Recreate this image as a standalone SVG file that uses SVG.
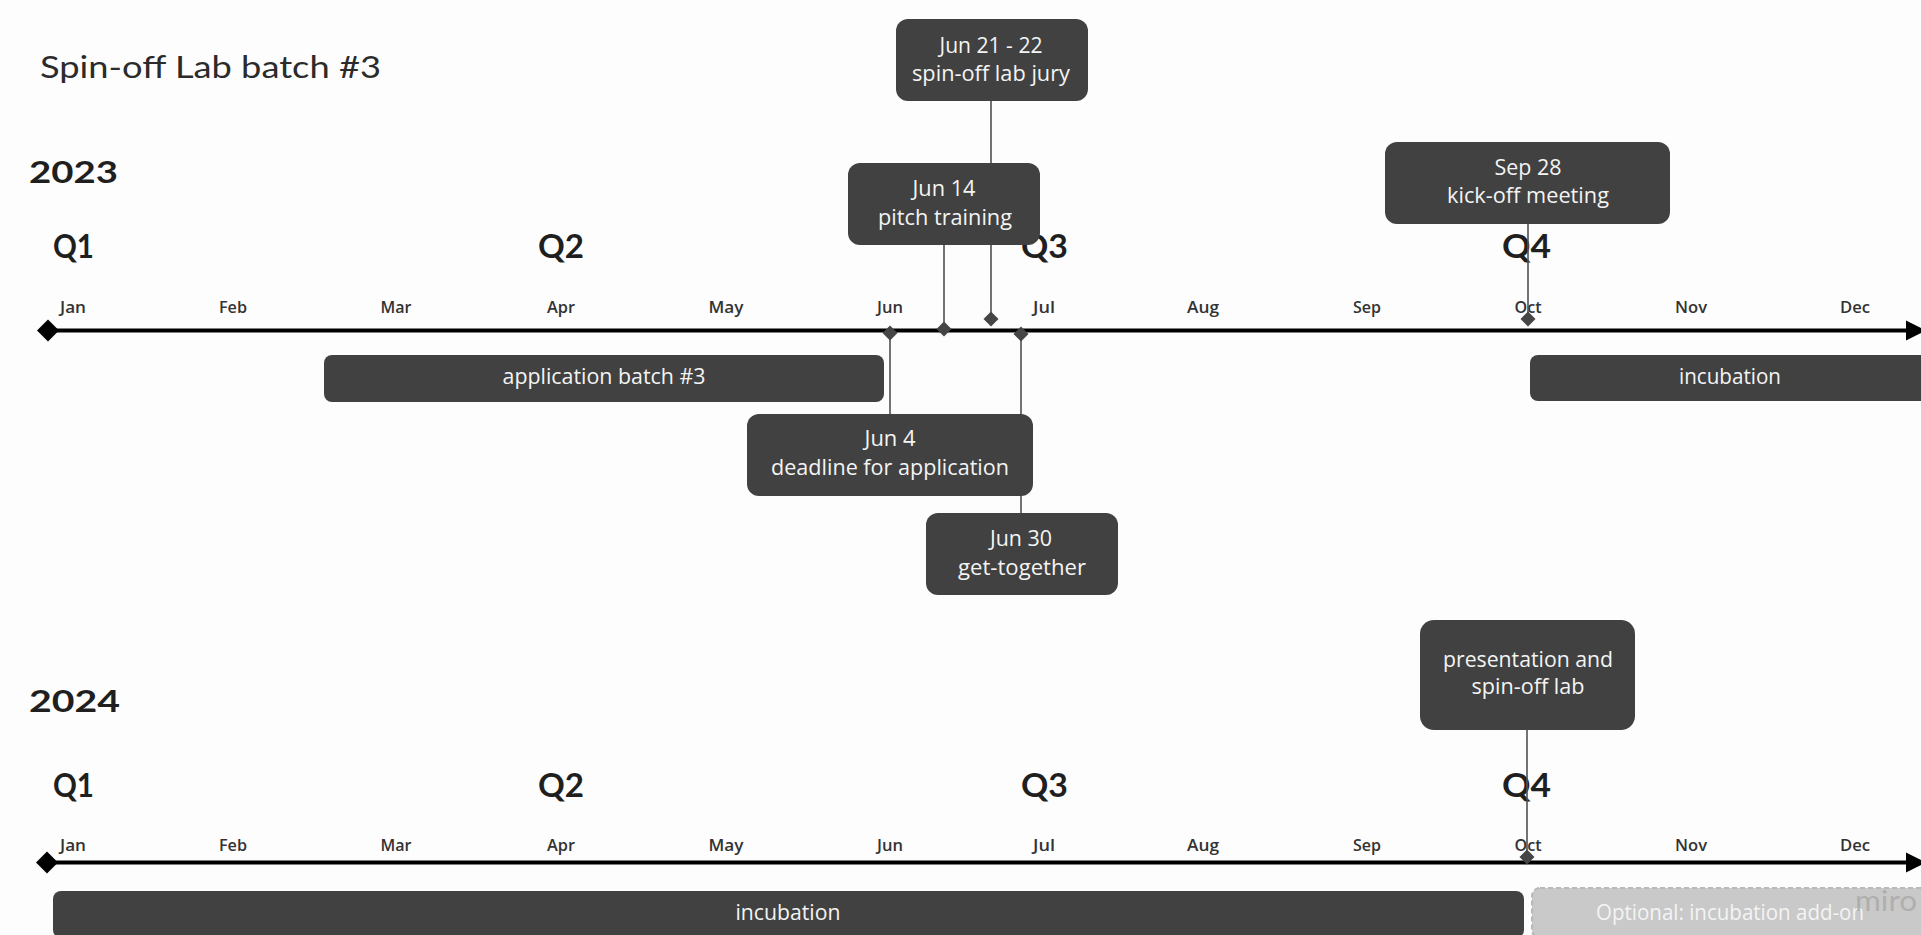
<svg xmlns="http://www.w3.org/2000/svg" width="1921" height="935" viewBox="0 0 1921 935">
<defs>
<style>
.title{font-family:Lato,"Liberation Sans",sans-serif;font-size:30px;font-weight:400;fill:#2b2b2b}
.year{font-family:Lato,"Liberation Sans",sans-serif;font-size:31px;font-weight:700;fill:#1f1f1f}
.q{font-family:Lato,"Liberation Sans",sans-serif;font-size:32px;font-weight:700;fill:#1f1f1f}
.m{font-family:"Open Sans","Liberation Sans",sans-serif;font-size:17px;font-weight:600;fill:#333;text-anchor:middle}
.bt{font-family:"Open Sans","Liberation Sans",sans-serif;font-size:22px;font-weight:500;fill:#f4f4f4;text-anchor:middle}
.bar{font-family:"Open Sans","Liberation Sans",sans-serif;font-size:22px;font-weight:500;fill:#f4f4f4;text-anchor:middle}
.box{fill:#414141}
.axis{stroke:#000;stroke-width:4;fill:none}
.conn{stroke:#505050;stroke-width:1.6;fill:none}
</style>
<marker id="dia" markerUnits="userSpaceOnUse" markerWidth="16" markerHeight="16" refX="8" refY="8" orient="0">
<path d="M8 0.5 L15.5 8 L8 15.5 L0.5 8 Z" fill="#454545"/>
</marker>
<marker id="bigdia" markerUnits="userSpaceOnUse" markerWidth="24" markerHeight="24" refX="12" refY="12" orient="0">
<path d="M12 1 L23 12 L12 23 L1 12 Z" fill="#000"/>
</marker>
<marker id="arrow" markerUnits="userSpaceOnUse" markerWidth="22" markerHeight="22" refX="20" refY="11" orient="auto">
<path d="M0 1 L20 11 L0 21 Z" fill="#000"/>
</marker>
</defs>
<rect x="0" y="0" width="1921" height="935" fill="#fdfdfd"/>

<g id="labels">
<text class="title" x="40" y="78" textLength="341" lengthAdjust="spacingAndGlyphs">Spin-off Lab batch #3</text>
<text class="year" x="29" y="183" textLength="89" lengthAdjust="spacingAndGlyphs">2023</text>
<text class="year" x="29" y="712" textLength="91" lengthAdjust="spacingAndGlyphs">2024</text>
<g id="quarters-2023">
<text class="q" x="53" y="258" textLength="41" lengthAdjust="spacingAndGlyphs">Q1</text>
<text class="q" x="538" y="258" textLength="46" lengthAdjust="spacingAndGlyphs">Q2</text>
<text class="q" x="1021" y="258" textLength="47" lengthAdjust="spacingAndGlyphs">Q3</text>
<text class="q" x="1502" y="258" textLength="49" lengthAdjust="spacingAndGlyphs">Q4</text>
</g>
<g id="quarters-2024">
<text class="q" x="53" y="797" textLength="41" lengthAdjust="spacingAndGlyphs">Q1</text>
<text class="q" x="538" y="797" textLength="46" lengthAdjust="spacingAndGlyphs">Q2</text>
<text class="q" x="1021" y="797" textLength="47" lengthAdjust="spacingAndGlyphs">Q3</text>
<text class="q" x="1502" y="797" textLength="49" lengthAdjust="spacingAndGlyphs">Q4</text>
</g>
<g id="months-2023">
<text class="m" x="73" y="313" textLength="26" lengthAdjust="spacingAndGlyphs">Jan</text>
<text class="m" x="233" y="313" textLength="28" lengthAdjust="spacingAndGlyphs">Feb</text>
<text class="m" x="396" y="313" textLength="31" lengthAdjust="spacingAndGlyphs">Mar</text>
<text class="m" x="561" y="313" textLength="28" lengthAdjust="spacingAndGlyphs">Apr</text>
<text class="m" x="726" y="313" textLength="35" lengthAdjust="spacingAndGlyphs">May</text>
<text class="m" x="890" y="313" textLength="26" lengthAdjust="spacingAndGlyphs">Jun</text>
<text class="m" x="1044" y="313" textLength="22" lengthAdjust="spacingAndGlyphs">Jul</text>
<text class="m" x="1203" y="313" textLength="32" lengthAdjust="spacingAndGlyphs">Aug</text>
<text class="m" x="1367" y="313" textLength="28" lengthAdjust="spacingAndGlyphs">Sep</text>
<text class="m" x="1528" y="313" textLength="27" lengthAdjust="spacingAndGlyphs">Oct</text>
<text class="m" x="1691" y="313" textLength="32" lengthAdjust="spacingAndGlyphs">Nov</text>
<text class="m" x="1855" y="313" textLength="30" lengthAdjust="spacingAndGlyphs">Dec</text>
</g>
<g id="months-2024">
<text class="m" x="73" y="851" textLength="26" lengthAdjust="spacingAndGlyphs">Jan</text>
<text class="m" x="233" y="851" textLength="28" lengthAdjust="spacingAndGlyphs">Feb</text>
<text class="m" x="396" y="851" textLength="31" lengthAdjust="spacingAndGlyphs">Mar</text>
<text class="m" x="561" y="851" textLength="28" lengthAdjust="spacingAndGlyphs">Apr</text>
<text class="m" x="726" y="851" textLength="35" lengthAdjust="spacingAndGlyphs">May</text>
<text class="m" x="890" y="851" textLength="26" lengthAdjust="spacingAndGlyphs">Jun</text>
<text class="m" x="1044" y="851" textLength="22" lengthAdjust="spacingAndGlyphs">Jul</text>
<text class="m" x="1203" y="851" textLength="32" lengthAdjust="spacingAndGlyphs">Aug</text>
<text class="m" x="1367" y="851" textLength="28" lengthAdjust="spacingAndGlyphs">Sep</text>
<text class="m" x="1528" y="851" textLength="27" lengthAdjust="spacingAndGlyphs">Oct</text>
<text class="m" x="1691" y="851" textLength="32" lengthAdjust="spacingAndGlyphs">Nov</text>
<text class="m" x="1855" y="851" textLength="30" lengthAdjust="spacingAndGlyphs">Dec</text>
</g>
</g>

<g id="axes">
<line class="axis" x1="48" y1="330.5" x2="1926" y2="330.5" marker-start="url(#bigdia)" marker-end="url(#arrow)"/>
<line class="axis" x1="47" y1="862.5" x2="1926" y2="862.5" marker-start="url(#bigdia)" marker-end="url(#arrow)"/>
</g>

<g id="connectors">
<line class="conn" x1="991" y1="101" x2="991" y2="319" marker-end="url(#dia)"/>
<line class="conn" x1="944" y1="245" x2="944" y2="329" marker-end="url(#dia)"/>
<line class="conn" x1="890" y1="414" x2="890" y2="333" marker-end="url(#dia)"/>
<line class="conn" x1="1021" y1="513" x2="1021" y2="334" marker-end="url(#dia)"/>
<line class="conn" x1="1528" y1="224" x2="1528" y2="319" marker-end="url(#dia)"/>
<line class="conn" x1="1527" y1="730" x2="1527" y2="857" marker-end="url(#dia)"/>
</g>

<g id="node-jury">
<rect class="box" x="896" y="19" width="192" height="82" rx="12"/>
<text class="bt" x="991" y="53" textLength="103" lengthAdjust="spacingAndGlyphs">Jun 21 - 22</text>
<text class="bt" x="991" y="81" textLength="158" lengthAdjust="spacingAndGlyphs">spin-off lab jury</text>
</g>
<g id="node-pitch">
<rect class="box" x="848" y="163" width="192" height="82" rx="12"/>
<text class="bt" x="944" y="196" textLength="63" lengthAdjust="spacingAndGlyphs">Jun 14</text>
<text class="bt" x="945" y="225" textLength="134" lengthAdjust="spacingAndGlyphs">pitch training</text>
</g>
<g id="node-kickoff">
<rect class="box" x="1385" y="142" width="285" height="82" rx="12"/>
<text class="bt" x="1528" y="175" textLength="67" lengthAdjust="spacingAndGlyphs">Sep 28</text>
<text class="bt" x="1528" y="203" textLength="162" lengthAdjust="spacingAndGlyphs">kick-off meeting</text>
</g>
<g id="node-application">
<rect class="box" x="324" y="355" width="560" height="47" rx="8"/>
<text class="bar" x="604" y="384" textLength="203" lengthAdjust="spacingAndGlyphs">application batch #3</text>
</g>
<g id="node-incubation-2023">
<rect class="box" x="1530" y="355" width="420" height="46" rx="8"/>
<text class="bar" x="1730" y="384" textLength="102" lengthAdjust="spacingAndGlyphs">incubation</text>
</g>
<g id="node-deadline">
<rect class="box" x="747" y="414" width="286" height="82" rx="12"/>
<text class="bt" x="890" y="446" textLength="51" lengthAdjust="spacingAndGlyphs">Jun 4</text>
<text class="bt" x="890" y="475" textLength="238" lengthAdjust="spacingAndGlyphs">deadline for application</text>
</g>
<g id="node-gettogether">
<rect class="box" x="926" y="513" width="192" height="82" rx="12"/>
<text class="bt" x="1021" y="546" textLength="62" lengthAdjust="spacingAndGlyphs">Jun 30</text>
<text class="bt" x="1022" y="575" textLength="128" lengthAdjust="spacingAndGlyphs">get-together</text>
</g>
<g id="node-presentation">
<rect class="box" x="1420" y="620" width="215" height="110" rx="14"/>
<text class="bt" x="1528" y="667" textLength="170" lengthAdjust="spacingAndGlyphs">presentation and</text>
<text class="bt" x="1528" y="694" textLength="113" lengthAdjust="spacingAndGlyphs">spin-off lab</text>
</g>
<g id="node-incubation-2024">
<rect class="box" x="53" y="891" width="1471" height="47" rx="8"/>
<text class="bar" x="788" y="920" textLength="105" lengthAdjust="spacingAndGlyphs">incubation</text>
</g>
<g id="node-optional">
<rect x="1532" y="888" width="420" height="50" rx="8" fill="#c9c9c9" stroke="#b8b8b8" stroke-width="2" stroke-dasharray="5 3"/>
<text class="bar" x="1730" y="920" textLength="268" lengthAdjust="spacingAndGlyphs" fill="#f0f0f0">Optional: incubation add-on</text>
</g>
<text x="1855" y="911" font-family="Lato,'Liberation Sans',sans-serif" font-size="28" fill="#aaaaaa" fill-opacity="0.85" textLength="62" lengthAdjust="spacingAndGlyphs">miro</text>
</svg>
